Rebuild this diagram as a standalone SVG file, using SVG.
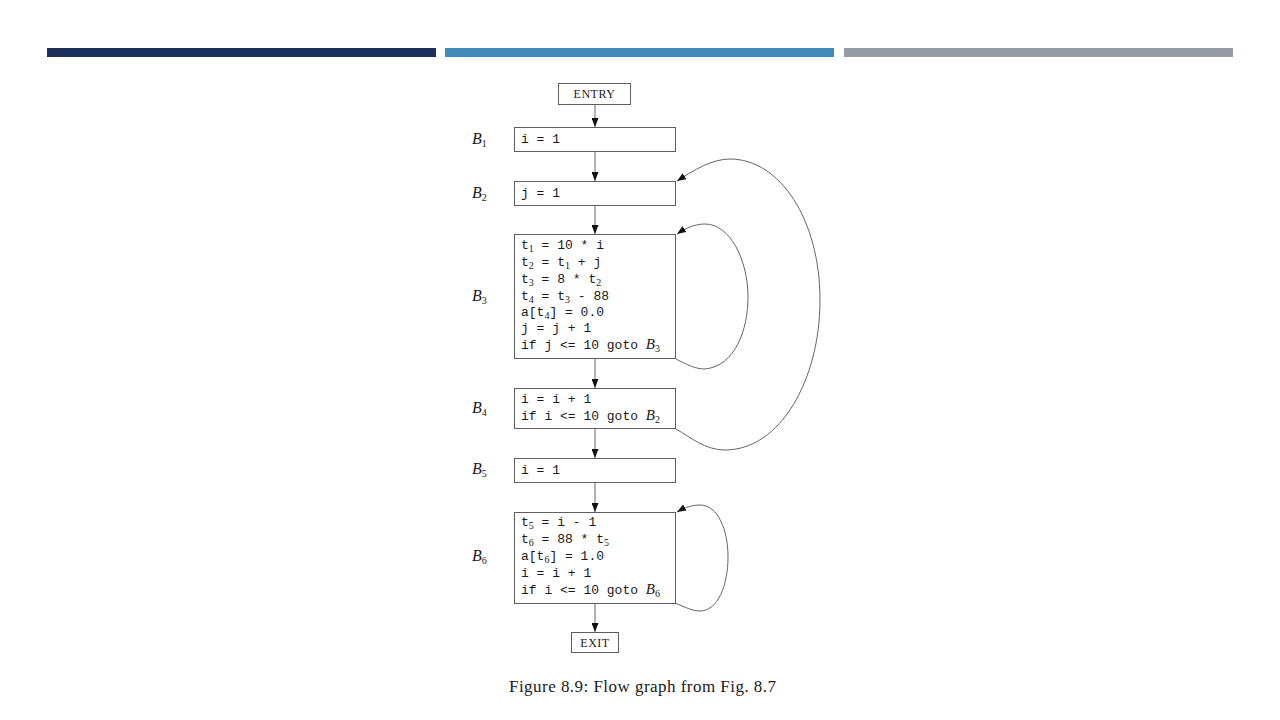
<svg xmlns="http://www.w3.org/2000/svg" width="1280" height="720" viewBox="0 0 1280 720">
<style>
.box{fill:#fff;stroke:#5e5e5e;stroke-width:1}
.edge{fill:none;stroke:#666;stroke-width:1}
.code{font-family:"Liberation Mono","DejaVu Sans Mono",monospace;font-size:13px;fill:#1a1a1a;white-space:pre}
.sub{font-family:"Liberation Serif",serif;font-size:10px}
.math{font-family:"Liberation Serif",serif;font-style:italic;font-size:15px}
.lbl{font-family:"Liberation Serif",serif;font-style:italic;font-size:16px;fill:#1a1a1a}
.lsub{font-family:"Liberation Serif",serif;font-style:normal;font-size:10px}
.term{font-family:"Liberation Serif",serif;font-size:12px;fill:#1a1a1a;letter-spacing:0.5px}
.cap{font-family:"Liberation Serif",serif;font-size:17px;fill:#1a1a1a}
</style>
<defs>
<marker id="ah" markerWidth="9" markerHeight="7" refX="9" refY="3.5" orient="auto" markerUnits="userSpaceOnUse">
<path d="M0,0 L9,3.5 L0,7 z" fill="#111"/>
</marker>
</defs>
<rect width="1280" height="720" fill="#fff"/>
<g id="header">
<rect x="47" y="48" width="389" height="9" fill="#1c2f5a"/>
<rect x="445" y="48" width="389" height="9" fill="#418bb9"/>
<rect x="844" y="48" width="389" height="9" fill="#959ca4"/>
</g>
<g id="connectors">
<line class="edge" x1="595" y1="104" x2="595" y2="127" marker-end="url(#ah)"/>
<line class="edge" x1="595" y1="152" x2="595" y2="181" marker-end="url(#ah)"/>
<line class="edge" x1="595" y1="205" x2="595" y2="234" marker-end="url(#ah)"/>
<line class="edge" x1="595" y1="359" x2="595" y2="388" marker-end="url(#ah)"/>
<line class="edge" x1="595" y1="429" x2="595" y2="458" marker-end="url(#ah)"/>
<line class="edge" x1="595" y1="482" x2="595" y2="512" marker-end="url(#ah)"/>
<line class="edge" x1="595" y1="603" x2="595" y2="632" marker-end="url(#ah)"/>
<path class="edge" d="M676,359 C688,365 695,369 705,369 C735,366 748,330 748,297 C748,260 730,224 705,224 C695,224 686,228 677,234" marker-end="url(#ah)"/>
<path class="edge" d="M676,429 C690,437 705,450 725,450 C780,450 820,380 820,300 C820,220 780,159 730,159 C712,159 694,170 677,181" marker-end="url(#ah)"/>
<path class="edge" d="M675,603 C685,607 692,611 700,611 C718,611 728,585 728,557 C728,530 718,505 700,505 C692,505 684,508 677,512" marker-end="url(#ah)"/>
</g>
<g id="entry">
<rect class="box" x="558.5" y="83.5" width="72" height="21"/>
<text class="term" x="594.5" y="98" text-anchor="middle">ENTRY</text>
</g>
<g id="B1">
<text class="lbl" x="472" y="144">B<tspan class="lsub" dy="3">1</tspan></text>
<rect class="box" x="514.5" y="127.5" width="161" height="24"/>
<text class="code" x="521" y="143">i = 1</text>
</g>
<g id="B2">
<text class="lbl" x="472" y="198">B<tspan class="lsub" dy="3">2</tspan></text>
<rect class="box" x="514.5" y="181.5" width="161" height="24"/>
<text class="code" x="521" y="197">j = 1</text>
</g>
<g id="B3">
<text class="lbl" x="472" y="301">B<tspan class="lsub" dy="3">3</tspan></text>
<rect class="box" x="514.5" y="234.5" width="161" height="124"/>
<text class="code" x="521" y="249">t<tspan class="sub" dy="3">1</tspan><tspan dy="-3"> = 10 * i</tspan></text>
<text class="code" x="521" y="266">t<tspan class="sub" dy="3">2</tspan><tspan dy="-3"> = t</tspan><tspan class="sub" dy="3">1</tspan><tspan dy="-3"> + j</tspan></text>
<text class="code" x="521" y="283">t<tspan class="sub" dy="3">3</tspan><tspan dy="-3"> = 8 * t</tspan><tspan class="sub" dy="3">2</tspan></text>
<text class="code" x="521" y="300">t<tspan class="sub" dy="3">4</tspan><tspan dy="-3"> = t</tspan><tspan class="sub" dy="3">3</tspan><tspan dy="-3"> - 88</tspan></text>
<text class="code" x="521" y="316">a[t<tspan class="sub" dy="3">4</tspan><tspan dy="-3">] = 0.0</tspan></text>
<text class="code" x="521" y="332">j = j + 1</text>
<text class="code" x="521" y="349">if j &lt;= 10 goto <tspan class="math">B</tspan><tspan class="sub" dy="3">3</tspan></text>
</g>
<g id="B4">
<text class="lbl" x="472" y="413">B<tspan class="lsub" dy="3">4</tspan></text>
<rect class="box" x="514.5" y="388.5" width="161" height="40"/>
<text class="code" x="521" y="403">i = i + 1</text>
<text class="code" x="521" y="420">if i &lt;= 10 goto <tspan class="math">B</tspan><tspan class="sub" dy="3">2</tspan></text>
</g>
<g id="B5">
<text class="lbl" x="472" y="474">B<tspan class="lsub" dy="3">5</tspan></text>
<rect class="box" x="514.5" y="458.5" width="161" height="24"/>
<text class="code" x="521" y="474">i = 1</text>
</g>
<g id="B6">
<text class="lbl" x="472" y="561">B<tspan class="lsub" dy="3">6</tspan></text>
<rect class="box" x="514.5" y="512.5" width="161" height="91"/>
<text class="code" x="521" y="526">t<tspan class="sub" dy="3">5</tspan><tspan dy="-3"> = i - 1</tspan></text>
<text class="code" x="521" y="543">t<tspan class="sub" dy="3">6</tspan><tspan dy="-3"> = 88 * t</tspan><tspan class="sub" dy="3">5</tspan></text>
<text class="code" x="521" y="560">a[t<tspan class="sub" dy="3">6</tspan><tspan dy="-3">] = 1.0</tspan></text>
<text class="code" x="521" y="577">i = i + 1</text>
<text class="code" x="521" y="594">if i &lt;= 10 goto <tspan class="math">B</tspan><tspan class="sub" dy="3">6</tspan></text>
</g>
<g id="exit">
<rect class="box" x="571.5" y="632.5" width="47" height="20"/>
<text class="term" x="595" y="647" text-anchor="middle">EXIT</text>
</g>
<g id="caption">
<text class="cap" x="509" y="692" textLength="267" lengthAdjust="spacing">Figure 8.9: Flow graph from Fig. 8.7</text>
</g>
</svg>
